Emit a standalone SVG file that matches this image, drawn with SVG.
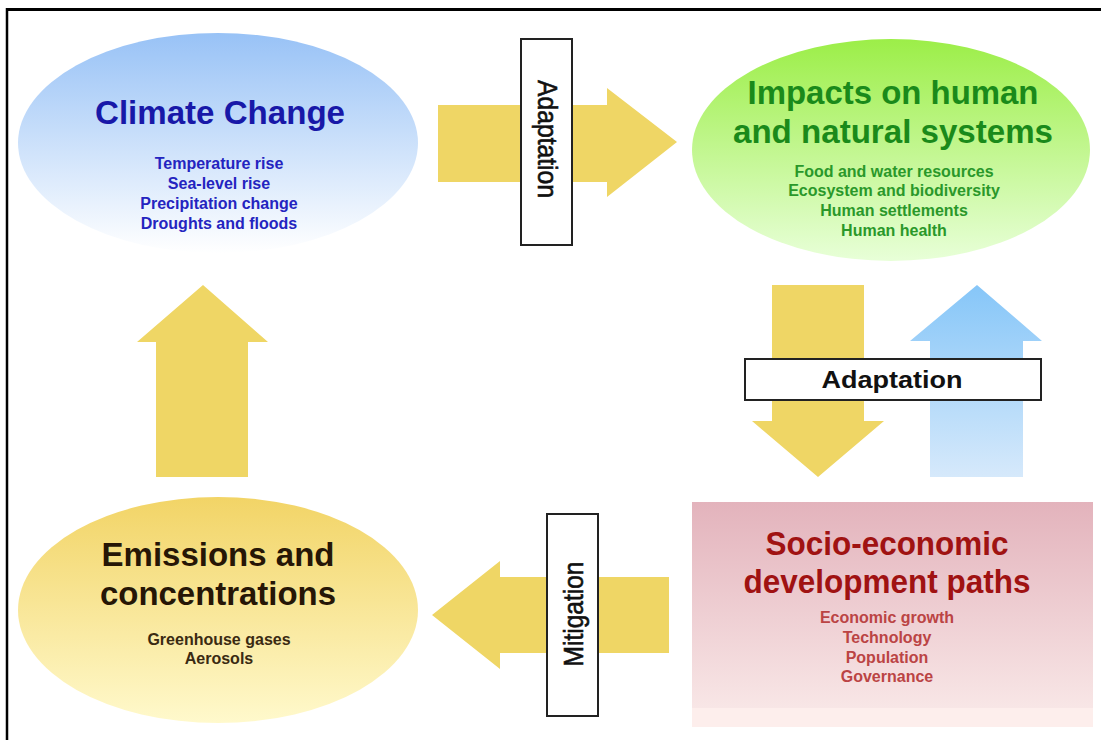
<svg xmlns="http://www.w3.org/2000/svg" width="1101" height="740" viewBox="0 0 1101 740">
<defs>
<linearGradient id="gBlue" x1="0" y1="0" x2="0" y2="1"><stop offset="0" stop-color="#98c2f6"/><stop offset="1" stop-color="#ffffff"/></linearGradient>
<linearGradient id="gGreen" x1="0" y1="0" x2="0" y2="1"><stop offset="0" stop-color="#9cee48"/><stop offset="1" stop-color="#e8ffd8"/></linearGradient>
<linearGradient id="gYellow" x1="0" y1="0" x2="0" y2="1"><stop offset="0" stop-color="#f2d466"/><stop offset="1" stop-color="#fff9cc"/></linearGradient>
<linearGradient id="gRed" x1="0" y1="0" x2="0" y2="1"><stop offset="0" stop-color="#e3b3bc"/><stop offset="1" stop-color="#f8e6e6"/></linearGradient>
<linearGradient id="gUp" x1="0" y1="0" x2="0" y2="1"><stop offset="0" stop-color="#86c6f8"/><stop offset="1" stop-color="#d6e9fb"/></linearGradient>
<style>
.t{font-family:"Liberation Sans",Arial,sans-serif;font-weight:bold;text-anchor:middle}
.title{font-size:33px}
.sub{font-size:16px}
.lbl{fill:#ffffff;stroke:#222;stroke-width:2}
.lt{font-family:"Liberation Sans",Arial,sans-serif;fill:#111;text-anchor:middle}
.vt{stroke:#111;stroke-width:0.6}
.arrow{fill:#efd665}
</style>
</defs>
<rect width="1101" height="740" fill="#ffffff"/>
<g id="frame" stroke="#000" fill="none">
<line x1="6" y1="9.5" x2="1101" y2="9.5" stroke-width="3"/>
<line x1="7" y1="8" x2="7" y2="740" stroke-width="2.5"/>
</g>

<g id="connectors">
<g id="arrow-top">
<polygon class="arrow" points="438,105 607,105 607,88 677,142 607,197 607,182 438,182"/>
<rect class="lbl" x="521" y="39" width="51" height="206"/>
<text class="lt vt" font-size="27" textLength="118" lengthAdjust="spacingAndGlyphs" transform="translate(546.5,139) rotate(90)" x="0" y="9">Adaptation</text>
</g>
<g id="arrow-down">
<polygon class="arrow" points="772,285 864,285 864,421 884,421 818,477 752,421 772,421"/>
</g>
<g id="arrow-up-blue">
<polygon fill="url(#gUp)" points="930,477 1023,477 1023,341 1042,341 977,285 910,341 930,341"/>
</g>
<g id="label-adaptation-mid">
<rect class="lbl" x="745" y="359" width="296" height="41"/>
<text class="lt" font-weight="bold" font-size="24" textLength="141" lengthAdjust="spacingAndGlyphs" x="892" y="388">Adaptation</text>
</g>
<g id="arrow-bottom">
<polygon class="arrow" points="669,577 500,577 500,561 432,615 500,669 500,653 669,653"/>
<rect class="lbl" x="547" y="514" width="51" height="202"/>
<text class="lt vt" font-size="28" textLength="105" lengthAdjust="spacingAndGlyphs" transform="translate(572.5,614) rotate(-90)" x="0" y="10">Mitigation</text>
</g>
<g id="arrow-left-up">
<polygon class="arrow" points="156,477 248,477 248,342 268,342 203,285 137,342 156,342"/>
</g>
</g>

<g id="climate-change">
<ellipse cx="218" cy="143" rx="200" ry="110" fill="url(#gBlue)"/>
<g class="t" fill="#1818a8">
<text class="title" x="220" y="124" textLength="250" lengthAdjust="spacingAndGlyphs">Climate Change</text>
<g fill="#2424c0">
<text class="sub" x="219" y="169">Temperature rise</text>
<text class="sub" x="219" y="189">Sea-level rise</text>
<text class="sub" x="219" y="209">Precipitation change</text>
<text class="sub" x="219" y="229">Droughts and floods</text>
</g>
</g>
</g>

<g id="impacts">
<ellipse cx="891" cy="150" rx="199" ry="111" fill="url(#gGreen)"/>
<g class="t" fill="#1a8a1a">
<text class="title" x="893" y="104" textLength="291" lengthAdjust="spacingAndGlyphs">Impacts on human</text>
<text class="title" x="893" y="143" textLength="320" lengthAdjust="spacingAndGlyphs">and natural systems</text>
<g fill="#2a982a">
<text class="sub" x="894" y="177">Food and water resources</text>
<text class="sub" x="894" y="196">Ecosystem and biodiversity</text>
<text class="sub" x="894" y="216">Human settlements</text>
<text class="sub" x="894" y="236">Human health</text>
</g>
</g>
</g>

<g id="socio-economic">
<rect x="692" y="502" width="401" height="206" fill="url(#gRed)"/>
<rect x="692" y="708" width="401" height="19" fill="#fdeeec"/>
<g class="t" fill="#a01212">
<text class="title" x="887" y="555" textLength="243" lengthAdjust="spacingAndGlyphs" font-size="32">Socio-economic</text>
<text class="title" x="887" y="593" textLength="287" lengthAdjust="spacingAndGlyphs" font-size="32">development paths</text>
<g fill="#bb4444">
<text class="sub" x="887" y="623">Economic growth</text>
<text class="sub" x="887" y="643">Technology</text>
<text class="sub" x="887" y="663">Population</text>
<text class="sub" x="887" y="682">Governance</text>
</g>
</g>
</g>

<g id="emissions">
<ellipse cx="218" cy="610" rx="200" ry="113" fill="url(#gYellow)"/>
<g class="t" fill="#261606">
<text class="title" x="218" y="566">Emissions and</text>
<text class="title" x="218" y="605" textLength="236" lengthAdjust="spacingAndGlyphs">concentrations</text>
<g fill="#3a2a12">
<text class="sub" x="219" y="645">Greenhouse gases</text>
<text class="sub" x="219" y="664">Aerosols</text>
</g>
</g>
</g>
</svg>
